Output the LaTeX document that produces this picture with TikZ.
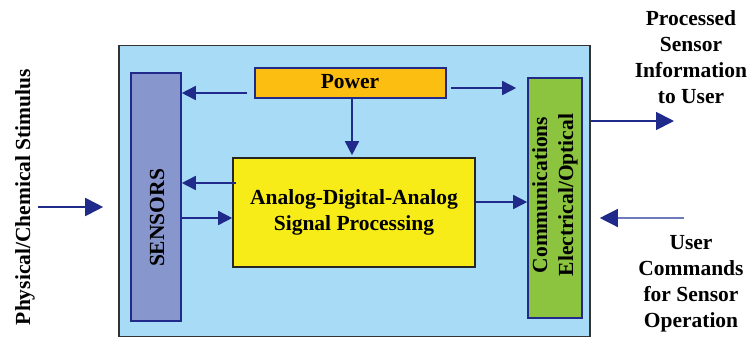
\documentclass[tikz,border=0pt]{standalone}
\usepackage{fontspec}
\setmainfont{Liberation Serif}
\usetikzlibrary{arrows.meta,calc}

\definecolor{bgblue}{RGB}{168,219,245}
\definecolor{sensfill}{RGB}{136,150,206}
\definecolor{navy}{RGB}{32,42,138}
\definecolor{paleline}{RGB}{110,122,188}
\definecolor{powfill}{RGB}{252,190,16}
\definecolor{adspfill}{RGB}{248,236,24}
\definecolor{commfill}{RGB}{140,196,64}

\tikzset{
  blk/.style={draw=navy, line width=1.6pt, inner sep=0pt, rectangle},
  lbl/.style={font=\fontsize{21.5}{26}\selectfont\bfseries, align=center, inner sep=0pt, text=black},
  arr/.style={draw=navy, line width=1.6pt, -{Triangle[length=14pt,width=14pt]}},
  bigarr/.style={draw=navy, line width=1.8pt, -{Triangle[length=18pt,width=18pt]}},
}

\begin{document}
\begin{tikzpicture}[x=1pt,y=-1pt]
  \useasboundingbox (0,0) rectangle (756,338);

  % enclosing system box
  \node[blk, draw=black!80, fill=bgblue, minimum width=471, minimum height=291] (outer) at (354.5,191) {};

  % functional blocks
  \node[blk, fill=sensfill, minimum width=50, minimum height=248] (sensors) at (156,197) {};
  \node[blk, fill=powfill, minimum width=191, minimum height=30] (power) at (350.5,83) {};
  \node[blk, draw=black!85, fill=adspfill, minimum width=242, minimum height=109] (adsp) at (354,212.5) {};
  \node[blk, fill=commfill, minimum width=54, minimum height=240] (comm) at (555,198) {};

  % block labels
  \node[lbl, rotate=90] (senslbl) at (157,218) {SENSORS};
  \node[lbl] (powlbl) at (350,82) {Power};
  \node[lbl] (adsplbl) at (354,212) {Analog-Digital-Analog\\Signal Processing};
  \node[lbl, rotate=90, align=center] (commlbl) at (555,195) {Communications\\Electrical/Optical};

  % outside labels
  \node[lbl, rotate=90] (stimlbl) at (25,197) {Physical/Chemical Stimulus};
  \node[lbl, align=center] (outlbl) at (691,57) {Processed\\Sensor\\Information\\to User};
  \node[lbl, align=center] (inlbl) at (691,284) {User\\Commands\\for Sensor\\Operation};

  % internal connections
  \coordinate (p1) at ($(power.west)+(-7,10)$);
  \draw[arr] (p1) -- (p1 -| sensors.east);
  \coordinate (p2) at ($(power.east)+(4,5)$);
  \draw[arr] (p2) -- ($(p2 -| comm.west)+(-11,0)$);
  \draw[arr] (power.south -| 352,0) -- ($(adsp.north -| 352,0)+(0,-2)$);
  \coordinate (a1) at ($(adsp.west)+(4,-29.5)$);
  \draw[arr] (a1) -- (a1 -| sensors.east);
  \coordinate (s1) at ($(sensors.east)+(0,21)$);
  \draw[arr] (s1) -- (s1 -| adsp.west);
  \coordinate (a2) at ($(adsp.east)+(0,-10.5)$);
  \draw[arr] (a2) -- (a2 -| comm.west);

  % external connections
  \coordinate (stim) at (38,207);
  \draw[bigarr] (stim) -- ($(stim -| outer.west)+(-15,0)$);
  \coordinate (o1) at (outer.east |- 0,121);
  \coordinate (o2) at (674,121);
  \draw[bigarr] (o1) -- (o2);
  \coordinate (u1) at (684,218);
  \draw[draw=paleline, line width=1.3pt, -{Triangle[length=18pt,width=18pt,color=navy]}] (u1) -- ($(u1 -| outer.east)+(9,0)$);
\end{tikzpicture}
\end{document}
